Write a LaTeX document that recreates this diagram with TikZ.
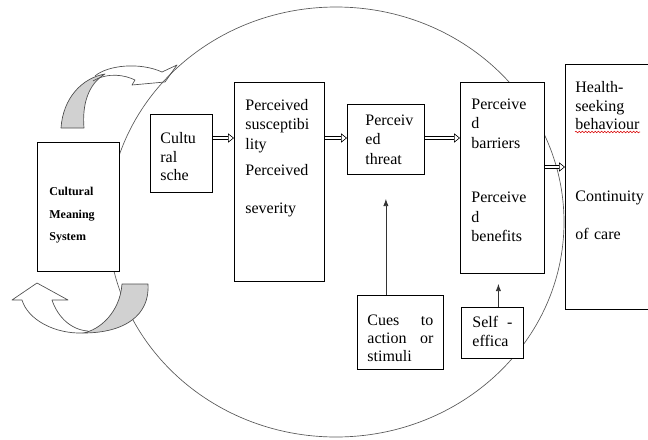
\documentclass[tikz,border=0pt]{standalone}
\usepackage{fontspec}
\setmainfont{Liberation Serif}
\usetikzlibrary{arrows.meta,decorations.pathmorphing}

\begin{document}
\begin{tikzpicture}[
  x=0.75pt, y=-0.75pt,
  font=\fontsize{12}{14.5}\selectfont,
  box/.style={draw, fill=white, line width=0.6pt, anchor=north west,
              align=left, inner ysep=0pt},
  ribbon/.style={draw=black!70, line width=0.5pt, line join=round},
  dbl/.style={double, double distance=2.2pt, line width=0.45pt,
              -{Triangle[length=4.5pt, width=7pt, fill=white]}},
  tip/.style={-{Latex[length=5.5pt, width=4pt]}, line width=0.6pt, draw=black!80}
]
\useasboundingbox (0,0) rectangle (648,439);

% Outer ellipse
\draw[black!65, line width=0.5pt] (336,222) ellipse [x radius=228, y radius=215];

% Curved block arrows
\fill[black!18] (61,128) -- (84,128) .. controls (82,105) and (88,84) .. (105,74)
  .. controls (82,78) and (63,98) .. (61,128) -- cycle;
\draw[ribbon] (61,128) -- (84,128) .. controls (82,105) and (88,84) .. (105,74)
  .. controls (82,78) and (63,98) .. (61,128) -- cycle;
\draw[ribbon] (95,76) .. controls (108,65) and (140,62) .. (162,72) -- (177,65)
  -- (165,82) -- (132,85) -- (135,80) .. controls (125,75) and (108,72) .. (93,81);

\fill[black!18] (122,284) -- (148,284) .. controls (150,315) and (125,333) .. (83,333)
  .. controls (100,330) and (120,312) .. (122,284) -- cycle;
\draw[ribbon] (122,284) -- (148,284) .. controls (150,315) and (125,333) .. (83,333)
  .. controls (100,330) and (120,312) .. (122,284) -- cycle;
\draw[ribbon] (83,333) .. controls (55,334) and (28,320) .. (22,300) -- (12,300)
  -- (37,283) -- (68,300) -- (52,300) .. controls (58,318) and (72,330) .. (88,331);

% Nodes
\node[box, inner xsep=9pt, text width=43.5pt, text height=39.75pt, text depth=57pt,
      font=\fontsize{9}{17}\selectfont\bfseries] (cms) at (37,142)
  {Cultural\\Meaning\\System};

\node[box, inner xsep=7.5pt, text width=31.5pt, text height=21.75pt, text depth=36.75pt,
      font=\fontsize{12}{14}\selectfont] (sche) at (150,114) {Cultu\\ral\\sche};

\node[box, inner xsep=8.25pt, text width=51pt, text height=21pt, text depth=128.25pt]
  (susc) at (234,82)
  {Perceived\\susceptibi\\lity\\[5.6pt]Perceived\\[13.9pt]severity};

\node[box, inner xsep=13.5pt, text width=30.75pt, text height=15.75pt, text depth=36.75pt]
  (threat) at (347,104) {Perceiv\\ed\\threat};

\node[box, inner xsep=8.25pt, text width=46.5pt, text height=20.25pt, text depth=123pt]
  (barr) at (460,82)
  {Perceive\\d\\barriers\\[26.6pt]Perceive\\d\\benefits};

\node[box, inner xsep=7.5pt, text width=82.5pt, text height=21pt, text depth=162.75pt,
      font=\fontsize{12}{14}\selectfont] (health) at (565,64)
  {Health-\\seeking\\behaviour\\[40pt]Continuity\\[14pt]of care};

\node[box, inner xsep=7.5pt, text width=49.5pt, text height=22.5pt, text depth=33pt,
      font=\fontsize{12}{13.5}\selectfont] (cues) at (357,295)
  {Cues\hfill to\\action\hfill or\\stimuli};

\node[box, inner xsep=8.25pt, text width=30pt, text height=15pt, text depth=23.25pt]
  (self) at (461,307) {Self\hfill -\\effica};

% spelling mark under behaviour
\draw[red!85!black, line width=0.4pt, decorate,
      decoration={snake, amplitude=0.6pt, segment length=2.4pt}] (575,132) -- (640,132);

% Arrows
\coordinate (rowA) at (0,138);
\coordinate (rowB) at (0,167);
\draw[dbl] (sche.east |- rowA) -- (susc.west |- rowA);
\draw[dbl] (susc.east |- rowA) -- (threat.west |- rowA);
\draw[dbl] (threat.east |- rowA) -- (barr.west |- rowA);
\draw[dbl] (barr.east |- rowB) -- (health.west |- rowB);

\draw[tip, shorten >=18pt] (threat.south |- cues.north) -- (threat.south);
\draw[tip, shorten >=7.5pt] ([xshift=4.5pt]self.north) -- ([xshift=4.5pt]self.north |- barr.south);
\end{tikzpicture}
\end{document}
